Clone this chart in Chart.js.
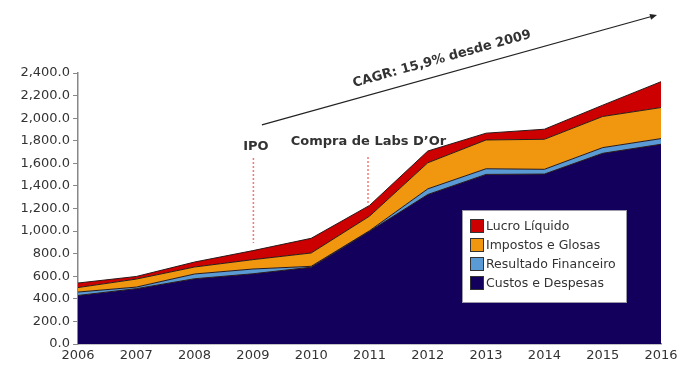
<!DOCTYPE html>
<html>
<head>
<meta charset="utf-8">
<script src="https://cdn.jsdelivr.net/npm/chart.js@4"></script>
<style>
  html, body { margin: 0; padding: 0; background: #fff; }
  #wrap { width: 685px; height: 365px; }
</style>
</head>
<body>
<div id="wrap"><canvas id="chart" width="685" height="365"></canvas></div>
<script>
// Valores (R$ milhões)
const anos = ['2006', '2007', '2008', '2009', '2010', '2011', '2012', '2013', '2014', '2015', '2016'];
const custosDespesas = [430, 490, 578, 622, 680, 998, 1324, 1502, 1505, 1689, 1769];
const resultadoFinanceiro = [30, 14, 42, 42, 8, 5, 50, 50, 42, 50, 50];
const impostosGlosas = [40, 71, 62, 83, 118, 129, 231, 255, 266, 276, 275];
const lucroLiquido = [40, 23, 44, 80, 130, 95, 104, 60, 89, 100, 229];
const yTicksMax = 2400;
const yTickStep = 200;

const cores = {
    custos: '#13005c',
    resultado: '#5b9bd5',
    impostos: '#f0960f',
    lucro: '#cc0000'
};

const fonte = 'DejaVu Sans, Verdana, sans-serif';

// Anotações: IPO, Labs D'Or, seta CAGR e legenda
const anotacoes = {
    id: 'anotacoes',
    afterDatasetsDraw(chart) {
        const ctx = chart.ctx;
        const x = chart.scales.x;
        const y = chart.scales.y;
        ctx.save();

        // linhas tracejadas
        ctx.strokeStyle = '#f27878';
        ctx.lineWidth = 1.5;
        ctx.setLineDash([2, 2]);
        ctx.beginPath();
        ctx.moveTo(x.getPixelForValue(3) + 0.5, y.getPixelForValue(1647));
        ctx.lineTo(x.getPixelForValue(3) + 0.5, y.getPixelForValue(895));
        ctx.moveTo(x.getPixelForValue(5) - 1.5, y.getPixelForValue(1656));
        ctx.lineTo(x.getPixelForValue(5) - 1.5, y.getPixelForValue(1249));
        ctx.stroke();
        ctx.setLineDash([]);

        // textos
        ctx.fillStyle = '#333';
        ctx.font = 'bold 13px ' + fonte;
        ctx.textAlign = 'center';
        ctx.textBaseline = 'middle';
        ctx.fillText('IPO', x.getPixelForValue(3) + 3, y.getPixelForValue(1745));
        ctx.fillText('Compra de Labs D\u2019Or', x.getPixelForValue(5) - 1, y.getPixelForValue(1792));

        // seta CAGR
        const x0 = x.getPixelForValue(3) + 9, y0 = y.getPixelForValue(1940);
        const x1 = x.getPixelForValue(10) - 4, y1 = y.getPixelForValue(2914);
        const ang = Math.atan2(y1 - y0, x1 - x0);
        ctx.strokeStyle = '#222';
        ctx.lineWidth = 1.2;
        ctx.beginPath();
        ctx.moveTo(x0, y0);
        ctx.lineTo(x1 - 3 * Math.cos(ang), y1 - 3 * Math.sin(ang));
        ctx.stroke();
        ctx.fillStyle = '#222';
        ctx.beginPath();
        ctx.moveTo(x1, y1);
        ctx.lineTo(x1 - 7 * Math.cos(ang) + 3 * Math.sin(ang), y1 - 7 * Math.sin(ang) - 3 * Math.cos(ang));
        ctx.lineTo(x1 - 7 * Math.cos(ang) - 3 * Math.sin(ang), y1 - 7 * Math.sin(ang) + 3 * Math.cos(ang));
        ctx.closePath();
        ctx.fill();

        ctx.save();
        ctx.translate(442, 59);
        ctx.rotate(ang);
        ctx.fillStyle = '#333';
        ctx.font = 'bold 13px ' + fonte;
        ctx.fillText('CAGR: 15,9% desde 2009', 0, 0);
        ctx.restore();

        // legenda
        const area = chart.chartArea;
        const lx = area.right - 199, ly = area.top + 137;
        ctx.fillStyle = '#fff';
        ctx.fillRect(lx, ly, 164, 92);
        ctx.strokeStyle = '#9a9aa8';
        ctx.lineWidth = 1;
        ctx.strokeRect(lx + 0.5, ly + 0.5, 164, 92);
        const itens = chart.data.datasets.slice().reverse();
        ctx.textAlign = 'left';
        ctx.font = '12.5px ' + fonte;
        itens.forEach((ds, i) => {
            const cy = ly + 16 + i * 19;
            ctx.fillStyle = ds.backgroundColor;
            ctx.fillRect(lx + 8, cy - 7, 14, 14);
            ctx.strokeStyle = '#333';
            ctx.strokeRect(lx + 8.5, cy - 6.5, 13, 13);
            ctx.fillStyle = '#333';
            ctx.fillText(ds.label, lx + 24, cy + 1);
        });
        ctx.restore();
    }
};

function serie(label, data, cor, fill) {
    return {
        label: label,
        data: data,
        backgroundColor: cor,
        borderColor: '#2a1a1a',
        borderWidth: 1,
        fill: fill,
        pointRadius: 0,
        tension: 0
    };
}

new Chart(document.getElementById('chart'), {
    type: 'line',
    data: {
        labels: anos,
        datasets: [
            serie('Custos e Despesas', custosDespesas, cores.custos, 'origin'),
            serie('Resultado Financeiro', resultadoFinanceiro, cores.resultado, '-1'),
            serie('Impostos e Glosas', impostosGlosas, cores.impostos, '-1'),
            serie('Lucro L\u00edquido', lucroLiquido, cores.lucro, '-1')
        ]
    },
    options: {
        responsive: false,
        animation: false,
        layout: {
            padding: { top: 73, right: 24, bottom: 0, left: 6 }
        },
        plugins: {
            legend: { display: false },
            tooltip: { enabled: false }
        },
        scales: {
            x: {
                offset: false,
                grid: { display: false, drawTicks: false },
                border: { color: '#888', width: 1.5 },
                ticks: {
                    color: '#333',
                    padding: 4,
                    maxRotation: 0,
                    font: { family: fonte, size: 13 }
                },
                afterFit: s => { s.height = 21; }
            },
            y: {
                stacked: true,
                min: 0,
                max: yTicksMax,
                grid: { drawOnChartArea: false, drawTicks: true, tickLength: 5, color: '#888' },
                border: { color: '#888', width: 1.5 },
                ticks: {
                    stepSize: yTickStep,
                    color: '#333',
                    padding: 3,
                    font: { family: fonte, size: 13 },
                    callback: v => v.toLocaleString('en-US', { minimumFractionDigits: 1, maximumFractionDigits: 1 })
                },
                afterFit: s => { s.width = 72; }
            }
        }
    },
    plugins: [anotacoes]
});
</script>
</body>
</html>
